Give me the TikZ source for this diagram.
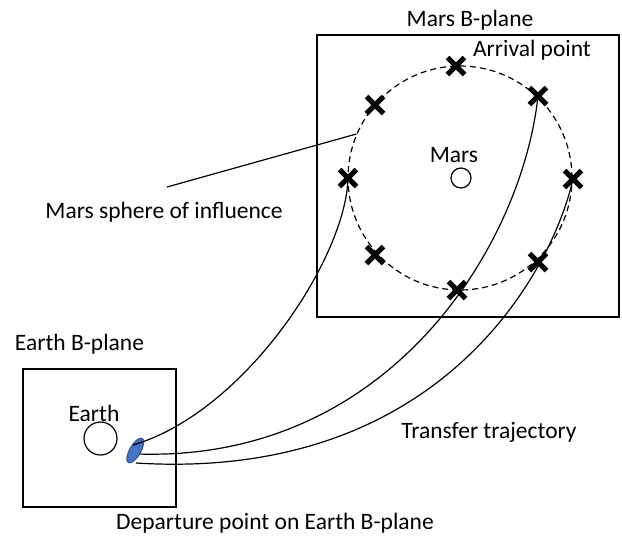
\documentclass[tikz,border=0pt]{standalone}
\usepackage{fontspec}
\setmainfont{Carlito}
\usetikzlibrary{shapes.geometric,shapes.misc}
\definecolor{depblue}{HTML}{4472C4}
\definecolor{depedge}{HTML}{2F528F}

\begin{document}
\begin{tikzpicture}[
    x=1pt, y=-1pt,
    line width=1.2pt,
    every node/.style={font=\fontsize{23.5}{28}\selectfont},
    bplane/.style={rectangle, draw, inner sep=0pt},
    planet/.style={circle, draw, inner sep=0pt},
    xmark/.style={cross out, draw, line width=5pt, inner sep=0pt, minimum size=12pt},
    lbl/.style={anchor=base, inner sep=0pt},
    traj/.style={line width=1.2pt}
]
    \useasboundingbox (0,0) rectangle (622,539);

    % B-planes
    \node (marsplane) [bplane, minimum width=302pt, minimum height=282pt] at (468,176) {};
    \node (earthplane) [bplane, minimum width=153pt, minimum height=138pt] at (99.5,438) {};
    \node [lbl] at (470,26) {Mars B-plane};
    \node [lbl] at (79.5,350) {Earth B-plane};

    % Planets
    \node (mars) [planet, minimum size=20pt] at (461,178) {};
    \node (earth) [planet, minimum size=33pt] at (100.5,438.5) {};
    \node [lbl] at (454,162) {Mars};
    \node [lbl] at (94,421) {Earth};

    % Sphere of influence
    \node (soi) [circle, draw, dashed, dash pattern=on 6pt off 4pt, inner sep=0pt, minimum size=224pt] at (460,178) {};
    \node (soitext) [lbl] at (164,218) {Mars sphere of influence};
    \coordinate (lead) at (167,187);
    \draw (lead) -- (soi.157);

    % Arrival points
    \node (a1) [xmark] at (456,66) {};
    \node (a2) [xmark] at (375,105) {};
    \node (a3) [xmark] at (538,96) {};
    \node (a4) [xmark] at (348,178) {};
    \node (a5) [xmark] at (573,179) {};
    \node (a6) [xmark] at (375,255) {};
    \node (a7) [xmark] at (457,290) {};
    \node (a8) [xmark] at (538,262) {};
    \node [lbl] at (532,56) {Arrival point};

    % Departure point and transfer trajectories
    \coordinate (d2) at (138,454);
    \coordinate (d3) at (136,463);
    \draw [traj] (d2) .. controls (390,462) and (522,245) .. (a3.center);
    \draw [traj] (d3) .. controls (440,482) and (552,272) .. (a5.center);
    \node (dep) [ellipse, draw=depedge, fill=depblue, line width=1pt, inner sep=0pt, minimum width=11pt, minimum height=28pt, rotate=-30] at (135.3,450.5) {};
    \coordinate (d1) at (133,445);
    \draw [traj] (d1) .. controls (245,412) and (346,258) .. (a4.center);

    \node [lbl] at (489,438) {Transfer trajectory};
    \node [lbl] at (275,529) {Departure point on Earth B-plane};
\end{tikzpicture}
\end{document}
